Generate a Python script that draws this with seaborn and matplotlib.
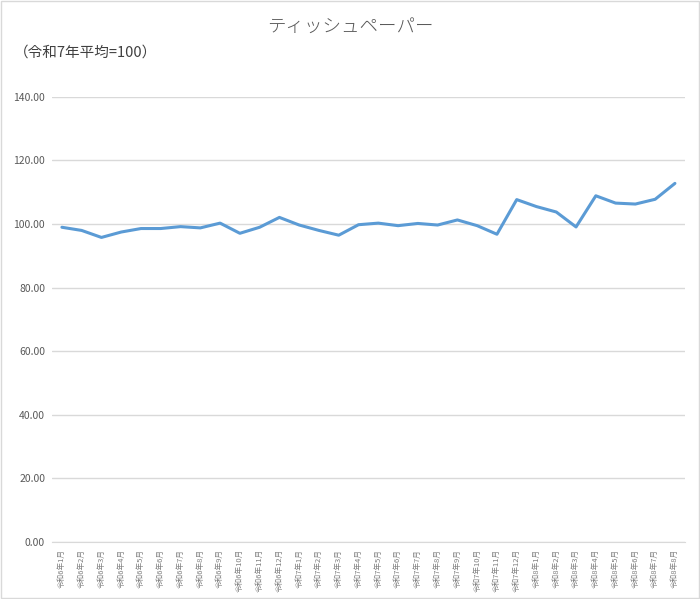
import seaborn as sns
import pandas as pd
import matplotlib.pyplot as plt
from matplotlib.patches import Rectangle

months = ([f"令和6年{m}月" for m in range(1, 13)]
          + [f"令和7年{m}月" for m in range(1, 13)]
          + [f"令和8年{m}月" for m in range(1, 9)])
index_values = [99.0, 98.0, 95.8, 97.5, 98.6, 98.6, 99.2, 98.8, 100.3, 97.1, 99.0, 102.1,
                99.7, 98.0, 96.5, 99.8, 100.3, 99.5, 100.2, 99.7, 101.3, 99.5, 96.8, 107.7,
                105.5, 103.8, 99.1, 108.9, 106.6, 106.3, 107.8, 112.8]
yticks = [0, 20, 40, 60, 80, 100, 120, 140]

sns.set_style("white")
plt.rcParams['font.family'] = ['Noto Sans CJK JP', 'DejaVu Sans']

df = pd.DataFrame({"pos": range(len(months)), "value": index_values})

fig = plt.figure(figsize=(7, 5.99), dpi=100)
ax = fig.add_axes([0.0743, 0.0952, 0.904, 0.743])
sns.lineplot(data=df, x="pos", y="value", color="#5B9BD5", linewidth=2.2, ax=ax)

ax.set_xlim(-0.5, len(months) - 0.5)
ax.set_ylim(0, 140)
ax.set_yticks(yticks)
ax.set_yticklabels([f"{v:.2f}" for v in yticks], fontsize=7.5, color="#595959")
ax.set_xticks(range(len(months)))
ax.set_xticklabels(months, rotation=90, fontsize=5.5, color="#7f7f7f")
ax.tick_params(length=0, pad=5)
ax.yaxis.grid(True, color="#d9d9d9", linewidth=1)
ax.set_axisbelow(True)
for s in ["top", "right", "left"]:
    ax.spines[s].set_visible(False)
ax.spines["bottom"].set_color("#d9d9d9")
ax.set_xlabel("")
ax.set_ylabel("")

fig.text(0.5, 0.955, "ティッシュペーパー", ha="center", va="center", fontsize=13.3,
         color="#595959", fontweight="light")
fig.text(0.02, 0.912, "（令和7年平均=100）", ha="left", va="center", fontsize=10.5, color="#404040")
fig.patches.append(Rectangle((0.001, 0.001), 0.997, 0.997, transform=fig.transFigure,
                             fill=False, edgecolor="#d9d9d9", linewidth=1))

fig.savefig("out.png", dpi=100)
